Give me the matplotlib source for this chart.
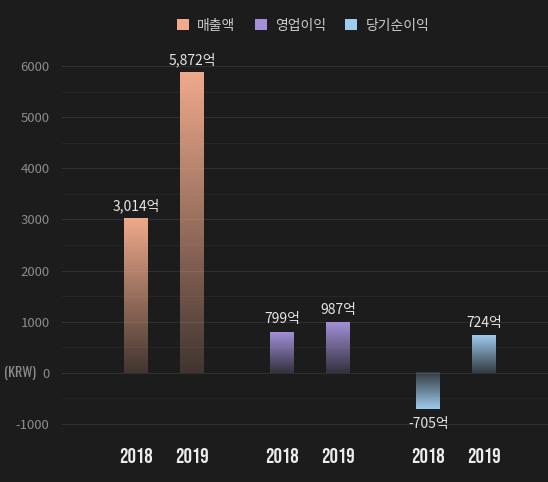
import matplotlib.pyplot as plt
import numpy as np
from matplotlib.patches import Patch
from matplotlib.colors import to_rgb

# data
categories = ['매출액', '영업이익', '당기순이익']
years = ['2018', '2019']
revenue = [3014, 5872]
op_income = [799, 987]
net_income = [-705, 724]
colors = ['#f0aa8c', '#a390d8', '#9ecbee']

series = [revenue, op_income, net_income]

plt.rcParams['font.family'] = ['Noto Sans CJK KR', 'DejaVu Sans']
bg = '#1c1c1c'

fig = plt.figure(figsize=(5.48, 4.82), dpi=100, facecolor=bg)
ax = fig.add_axes([0.1131, 0.0886, 0.8869, 0.817])
ax.set_facecolor(bg)

offset = 0.192
width = 0.164
xs, xlabels = [], []

for gi, (vals, col) in enumerate(zip(series, colors)):
    rgb = np.array(to_rgb(col))
    for yi, v in enumerate(vals):
        x = gi + (yi - 0.5) * 2 * offset
        xs.append(x)
        xlabels.append(years[yi])
        # gradient: bright at the value end, fading toward zero
        n = 100
        alpha = np.linspace(1.0, 0.18, n)
        img = np.zeros((n, 1, 4))
        img[:, 0, :3] = rgb
        img[:, 0, 3] = alpha
        if v >= 0:
            ext = (x - width / 2, x + width / 2, 0, v)
            origin = 'upper'
        else:
            ext = (x - width / 2, x + width / 2, v, 0)
            origin = 'lower'
        ax.imshow(img, extent=ext, origin=origin, aspect='auto', zorder=3,
                  interpolation='bilinear')
        label = f'{v:,}억'
        if v >= 0:
            ax.annotate(label, (x, v), xytext=(0, 4), textcoords='offset points',
                        ha='center', va='bottom', color='#e6e6e6', fontsize=10)
        else:
            ax.annotate(label, (x, v), xytext=(0, -6), textcoords='offset points',
                        ha='center', va='top', color='#e6e6e6', fontsize=10)

ax.set_xlim(-0.699, 2.627)
ax.set_ylim(-1300, 6400)

yt = np.arange(-1000, 6001, 1000)
ax.set_yticks(yt)
ax.set_yticklabels([str(t) for t in yt])
ax.set_yticks(np.arange(-1000, 6001, 500), minor=True)
ax.grid(which='major', axis='y', color='#2f2f2f', linewidth=0.8, zorder=0)
ax.grid(which='minor', axis='y', color='#262626', linewidth=0.7, zorder=0)
ax.tick_params(axis='y', which='both', length=0, pad=9, labelcolor='#8c8c8c',
               labelsize=9.5)

# unit label next to the zero tick
ax.annotate('(KRW)', (0, 0), xycoords=('axes fraction', 'data'), xytext=(-18.5, 0),
            textcoords='offset points', ha='right', va='center',
            fontfamily='Oswald', fontsize=10, color='#8c8c8c')

ax.set_xticks(xs)
ax.set_xticklabels(xlabels, fontfamily='Bebas Neue', fontsize=15)
ax.tick_params(axis='x', length=0, pad=6, labelcolor='#ececec')

for s in ax.spines.values():
    s.set_visible(False)

handles = [Patch(facecolor=c, label=l) for c, l in zip(colors, categories)]
fig.legend(handles=handles, loc='center', bbox_to_anchor=(0.553, 0.947), ncol=3,
           frameon=False, fontsize=10, labelcolor='#cccccc', handlelength=0.85,
           handleheight=0.85, handletextpad=0.6, columnspacing=1.4)

fig.savefig('out.png', dpi=100, facecolor=bg)
